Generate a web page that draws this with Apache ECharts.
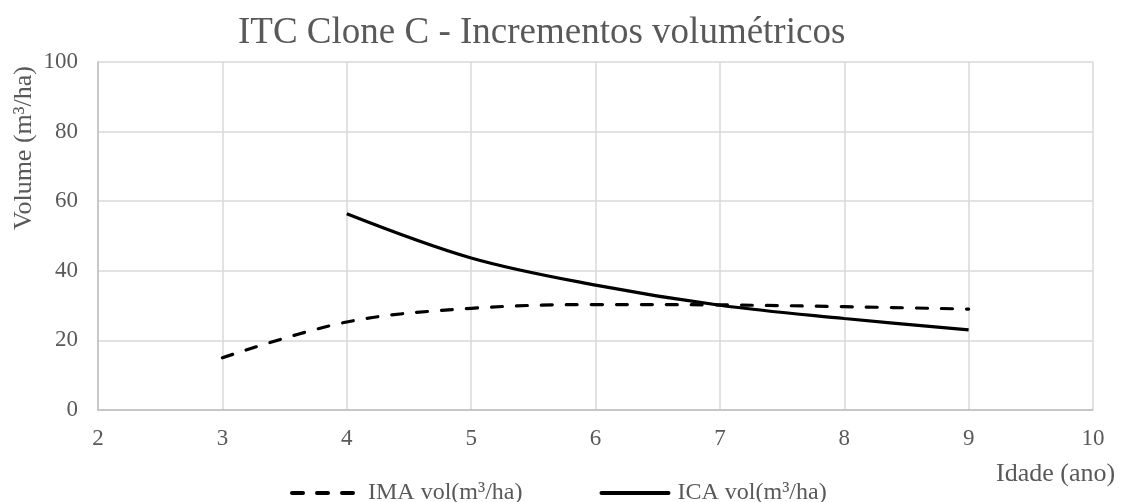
<!DOCTYPE html>
<html>
<head>
<meta charset="utf-8">
<script src="https://cdn.jsdelivr.net/npm/echarts@6/dist/echarts.min.js"></script>
<style>html,body{margin:0;padding:0;background:#fff}#c{width:1122px;height:502px}</style>
</head>
<body>
<div id="c"></div>
<script>
var titleText = 'ITC Clone C - Incrementos volumétricos';
var seriesNames = ['IMA vol(m³/ha)', 'ICA vol(m³/ha)'];
var imaAges = [3, 4, 5, 6, 7, 8, 9];
var imaValues = [15.0, 25.3, 29.2, 30.3, 30.2, 29.7, 29.0];
var icaAges = [4, 5, 6, 7, 8, 9];
var icaValues = [56.4, 43.7, 35.9, 30.1, 26.3, 23.0];
var xAxisName = 'Idade (ano)';
var yAxisName = 'Volume (m³/ha)';

function pairs(xs, ys) { return xs.map(function (x, i) { return [x, ys[i]]; }); }

var font = '"Liberation Serif", "Times New Roman", serif';
var txt = '#595959';
var chart = echarts.init(document.getElementById('c'));
chart.setOption({
  animation: false,
  backgroundColor: '#fff',
  textStyle: { fontFamily: font, color: txt },
  title: {
    text: titleText, left: 233, top: 10,
    textStyle: { fontFamily: font, fontSize: 37, fontWeight: 'normal', color: txt }
  },
  grid: { left: 98, right: 29, top: 62, bottom: 92 },
  legend: {
    left: 285, top: 476, itemWidth: 67, itemHeight: 12, itemGap: 77,
    itemStyle: { opacity: 0 },
    lineStyle: { width: 4, cap: 'round' },
    textStyle: { fontFamily: font, fontSize: 24, color: txt, padding: [0, 0, 0, 4] },
    data: seriesNames
  },
  xAxis: {
    type: 'value', min: 2, max: 10, interval: 1,
    axisLine: { lineStyle: { color: '#bfbfbf', width: 1.5 } },
    axisTick: { show: false },
    axisLabel: { fontFamily: font, fontSize: 23, color: txt, margin: 17 },
    splitLine: { lineStyle: { color: '#d9d9d9', width: 1.5 } }
  },
  yAxis: {
    type: 'value', min: 0, max: 100, interval: 20,
    axisLine: { show: true, lineStyle: { color: '#bfbfbf', width: 1.5 } },
    axisTick: { show: false },
    axisLabel: { fontFamily: font, fontSize: 23, color: txt, margin: 20 },
    splitLine: { lineStyle: { color: '#d9d9d9', width: 1.5 } }
  },
  graphic: [
    { type: 'text', left: 996, top: 461, style: { text: xAxisName, font: '26px ' + font, fill: txt } },
    { type: 'text', x: 11, y: 230, rotation: Math.PI / 2,
      style: { text: yAxisName, font: '26px ' + font, fill: txt, textAlign: 'left', textVerticalAlign: 'top' } }
  ],
  series: [
    {
      name: seriesNames[0], type: 'line', smooth: 0.35, symbol: 'none',
      data: pairs(imaAges, imaValues),
      lineStyle: { color: '#000', width: 3.2, type: [11, 14], cap: 'round' },
      itemStyle: { color: '#000' }
    },
    {
      name: seriesNames[1], type: 'line', smooth: 0.35, symbol: 'none',
      data: pairs(icaAges, icaValues),
      lineStyle: { color: '#000', width: 3.2 },
      itemStyle: { color: '#000' }
    }
  ]
});
</script>
</body>
</html>
